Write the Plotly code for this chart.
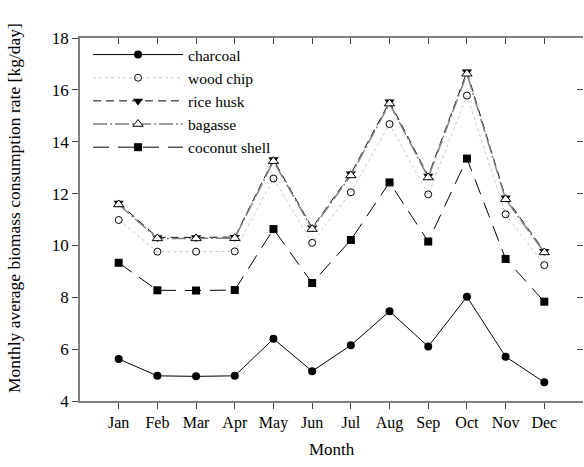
import plotly.graph_objects as go

months = ["Jan", "Feb", "Mar", "Apr", "May", "Jun", "Jul", "Aug", "Sep", "Oct", "Nov", "Dec"]
month_pos = list(range(1, 13))

charcoal = [5.62, 4.97, 4.95, 4.97, 6.40, 5.15, 6.15, 7.46, 6.10, 8.02, 5.71, 4.72]
wood_chip = [10.98, 9.76, 9.76, 9.77, 12.58, 10.10, 12.05, 14.68, 11.97, 15.78, 11.20, 9.24]
rice_husk = [11.64, 10.31, 10.31, 10.32, 13.31, 10.68, 12.76, 15.54, 12.68, 16.70, 11.84, 9.78]
bagasse = [11.58, 10.27, 10.27, 10.28, 13.25, 10.63, 12.70, 15.47, 12.62, 16.62, 11.78, 9.73]
coconut_shell = [9.33, 8.27, 8.26, 8.28, 10.63, 8.55, 10.21, 12.43, 10.15, 13.35, 9.48, 7.83]

FONT = "Liberation Serif"

W, H = 584, 467
ML, MR, MT, MB = 79.5, 1, 37.5, 65.5

fig = go.Figure()

fig.add_trace(go.Scatter(
    x=month_pos, y=charcoal, name="charcoal", mode="lines+markers",
    line=dict(color="black", width=1, dash="solid"),
    marker=dict(symbol="circle", size=8, color="black")))
fig.add_trace(go.Scatter(
    x=month_pos, y=wood_chip, name="wood chip", mode="lines+markers",
    line=dict(color="#c8c8c8", width=1, dash="dot"),
    marker=dict(symbol="circle-open", size=7, color="black", line=dict(width=1))))
fig.add_trace(go.Scatter(
    x=month_pos, y=rice_husk, name="rice husk", mode="lines+markers",
    line=dict(color="black", width=1, dash="8px,5px"),
    marker=dict(symbol="triangle-down", size=9, color="black")))
fig.add_trace(go.Scatter(
    x=month_pos, y=bagasse, name="bagasse", mode="lines+markers",
    line=dict(color="#808080", width=1.5, dash="14px,3px,2px,3px"),
    marker=dict(symbol="triangle-up", size=9, color="white", line=dict(color="black", width=1))))
fig.add_trace(go.Scatter(
    x=month_pos, y=coconut_shell, name="coconut shell", mode="lines+markers",
    line=dict(color="black", width=1, dash="16px,9px"),
    marker=dict(symbol="square", size=8, color="black")))

# invisible trace for mirrored axes (inward ticks on top/right)
fig.add_trace(go.Scatter(x=[0, 13], y=[4, 18], xaxis="x2", yaxis="y2",
                         mode="markers", marker=dict(opacity=0), showlegend=False,
                         hoverinfo="skip"))

fig.add_annotation(text="Monthly average biomass consumption rate [kg/day]",
                   xref="paper", yref="paper", x=0, y=0.5, xanchor="center", yanchor="middle",
                   xshift=-(ML - 13), yshift=11, textangle=-90, showarrow=False,
                   font=dict(family=FONT, size=17.5, color="black"))
fig.add_annotation(text="Month", xref="paper", yref="paper", x=0.5, y=0,
                   xanchor="center", yanchor="middle", yshift=-48.5, showarrow=False,
                   font=dict(family=FONT, size=17, color="black"))

fig.update_layout(
    width=W, height=H,
    margin=dict(l=ML, r=MR, t=MT, b=MB, autoexpand=False),
    paper_bgcolor="white", plot_bgcolor="white",
    font=dict(family=FONT, size=16, color="black"),
    showlegend=True,
    legend=dict(x=0.016, y=1.0, xanchor="left", yanchor="top",
                bgcolor="rgba(0,0,0,0)", font=dict(family=FONT, size=15.5),
                itemwidth=90, tracegroupgap=0),
    xaxis=dict(range=[0, 13], tickmode="array", tickvals=month_pos, ticktext=months,
               automargin=False,
               showgrid=False, zeroline=False, showline=True, linecolor="#808080", linewidth=1.5,
               ticks="outside", ticklen=6, tickcolor="#444", tickfont=dict(size=16)),
    yaxis=dict(range=[4, 18], tickvals=[4, 6, 8, 10, 12, 14, 16, 18],
               automargin=False,
               showgrid=False, zeroline=False, showline=True, linecolor="#808080", linewidth=1.5,
               ticks="outside", ticklen=6, tickcolor="#444", tickfont=dict(size=17)),
    xaxis2=dict(range=[0, 13], overlaying="x", side="top", tickvals=month_pos,
                automargin=False,
                showticklabels=False, showgrid=False, zeroline=False,
                showline=True, linecolor="#808080", linewidth=1.5,
                ticks="inside", ticklen=6, tickcolor="#444"),
    yaxis2=dict(range=[4, 18], overlaying="y", side="right", tickvals=[4, 6, 8, 10, 12, 14, 16, 18],
                automargin=False,
                showticklabels=False, showgrid=False, zeroline=False, showline=False,
                ticks="inside", ticklen=6, tickcolor="#444"),
)

fig.write_html("out.html", config={"displayModeBar": False},
               post_script="document.body.style.margin='0';")
